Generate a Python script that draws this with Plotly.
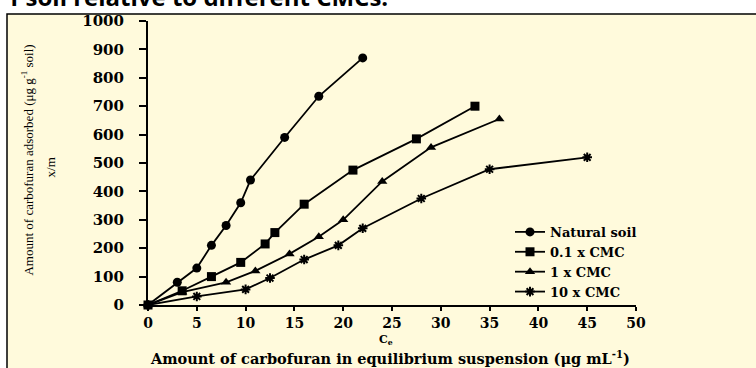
import plotly.graph_objects as go

# ---- data ----
natural_x = [0, 3, 5, 6.5, 8, 9.5, 10.5, 14, 17.5, 22]
natural_y = [0, 80, 130, 210, 280, 360, 440, 590, 735, 870]
cmc01_x = [0, 3.5, 6.5, 9.5, 12, 13, 16, 21, 27.5, 33.5]
cmc01_y = [0, 50, 100, 150, 215, 255, 355, 475, 585, 700]
cmc1_x = [0, 3.5, 8, 11, 14.5, 17.5, 20, 24, 29, 36]
cmc1_y = [0, 45, 80, 120, 180, 240, 300, 435, 555, 655]
cmc10_x = [0, 5, 10, 12.5, 16, 19.5, 22, 28, 35, 45]
cmc10_y = [0, 30, 55, 95, 160, 210, 270, 375, 478, 520]

series_names = ["Natural soil", "0.1 x CMC", "1 x CMC", "10 x CMC"]
x_ticks = [0, 5, 10, 15, 20, 25, 30, 35, 40, 45, 50]
y_ticks = [0, 100, 200, 300, 400, 500, 600, 700, 800, 900, 1000]

W, H = 756, 368
L, R, T, B = 148, 120, 18, 63
pw, ph = W - L - R, H - T - B

def px(x):
    return (x - L) / pw

def py(y):
    return (H - B - y) / ph

SERIF = "DejaVu Serif"
cream = "#FFFADC"

fig = go.Figure()
symbols = [
    dict(symbol="circle", size=9),
    dict(symbol="square", size=9),
    dict(symbol="triangle-up", size=9),
    dict(symbol="asterisk-open", size=8, line=dict(width=2, color="black")),
]
for name, xs, ys, sym in zip(series_names,
                             [natural_x, cmc01_x, cmc1_x, cmc10_x],
                             [natural_y, cmc01_y, cmc1_y, cmc10_y],
                             symbols):
    fig.add_trace(go.Scatter(
        x=xs, y=ys, name=name, mode="lines+markers",
        line=dict(color="black", width=1.8),
        marker=dict(color="black", **sym),
        cliponaxis=False,
    ))

fig.update_layout(
    width=W, height=H,
    margin=dict(l=L, r=R, t=T, b=B, pad=0),
    paper_bgcolor="white",
    plot_bgcolor=cream,
    showlegend=True,
    legend=dict(
        x=px(510), y=py(216), xanchor="left", yanchor="top",
        bgcolor="rgba(0,0,0,0)",
        font=dict(family=SERIF, size=13, color="black", weight="bold"),
        itemwidth=30, tracegroupgap=0,
    ),
    xaxis=dict(
        range=[0, 50], tickvals=x_ticks, ticktext=[str(v) for v in x_ticks],
        showgrid=False, zeroline=False, showline=True, linecolor="black", linewidth=2,
        ticks="outside", ticklen=4, tickwidth=2, tickcolor="black",
        tickfont=dict(family=SERIF, size=14, color="black", weight="bold"),
        ticklabelstandoff=0,
    ),
    yaxis=dict(
        range=[0, 1000], tickvals=y_ticks, ticktext=[str(v) for v in y_ticks],
        showgrid=False, zeroline=False, showline=True, linecolor="black", linewidth=2,
        ticks="outside", ticklen=7, tickwidth=2, tickcolor="black",
        tickfont=dict(family=SERIF, size=15, color="black", weight="bold"),
        ticklabelstandoff=12,
    ),
    shapes=[
        dict(type="rect", xref="paper", yref="paper", layer="below",
             x0=px(7), x1=px(W + 20), y0=py(H + 20), y1=py(11),
             fillcolor=cream, line=dict(color="black", width=1.5)),
    ],
    annotations=[
        dict(text="Amount of carbofuran adsorbed (μg g<sup>-1</sup> soil)",
             xref="paper", yref="paper", x=px(27), y=py(159),
             xanchor="center", yanchor="middle", textangle=-90, showarrow=False,
             font=dict(family="Liberation Serif", size=13, color="black")),
        dict(text="x/m", xref="paper", yref="paper", x=px(50), y=py(166),
             xanchor="center", yanchor="middle", textangle=-90, showarrow=False,
             font=dict(family="Liberation Serif", size=13, color="black")),
        dict(text="C<sub>e</sub>", xref="paper", yref="paper", x=px(386), y=py(340),
             xanchor="center", yanchor="middle", showarrow=False,
             font=dict(family=SERIF, size=11, color="black", weight="bold")),
        dict(text="Amount of carbofuran in equilibrium suspension (μg mL<sup>-1</sup>)",
             xref="paper", yref="paper", x=px(390), y=py(358),
             xanchor="center", yanchor="middle", showarrow=False,
             font=dict(family=SERIF, size=14.5, color="black", weight="bold")),
        dict(text="f soil relative to different CMCs.",
             xref="paper", yref="paper", x=px(390), y=py(12),
             xanchor="right", yanchor="bottom", showarrow=False,
             font=dict(family="Open Sans", size=24, color="black", weight="bold")),
    ],
)

fig.write_html("out.html")
